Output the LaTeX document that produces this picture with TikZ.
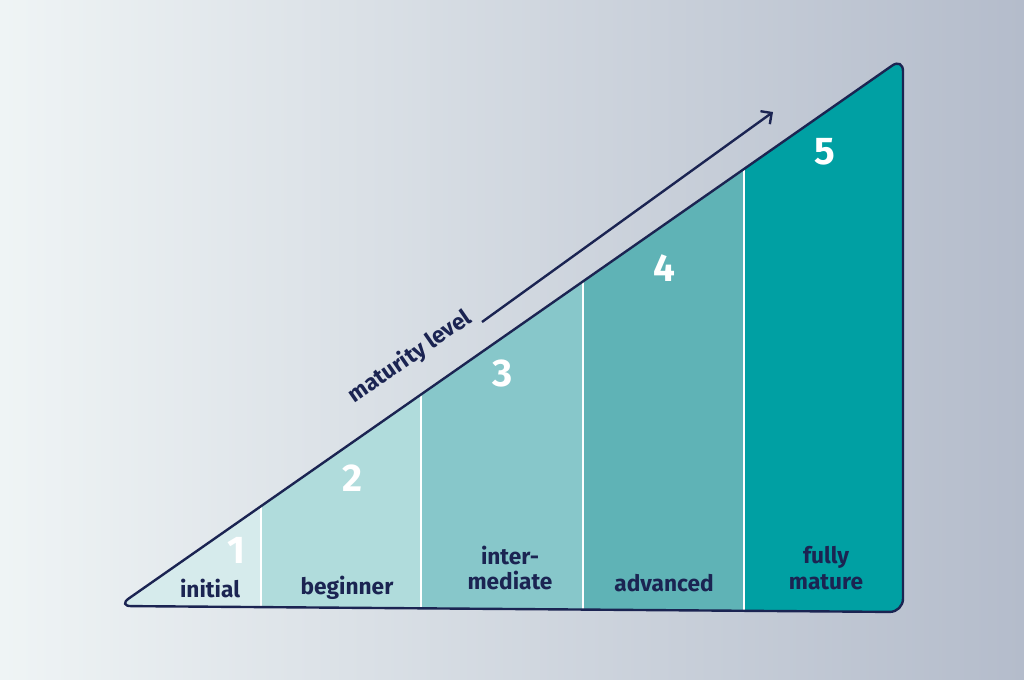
\documentclass[tikz,border=0pt]{standalone}
\usepackage{fontspec}
\setmainfont{Fira Sans}
\usetikzlibrary{arrows.meta}
\definecolor{navy}{HTML}{1B2452}
\definecolor{cA}{HTML}{D6EBEC}
\definecolor{cB}{HTML}{B0DCDC}
\definecolor{cC}{HTML}{87C7CA}
\definecolor{cD}{HTML}{5FB3B6}
\definecolor{cE}{HTML}{00A0A3}
\definecolor{bgL}{HTML}{EFF4F5}
\definecolor{bgR}{HTML}{B4BCCB}
\tikzset{
 num/.style={text=white,font=\fontsize{29}{32}\selectfont\bfseries},
 lab/.style={text=navy,font=\fontsize{17}{19}\selectfont\bfseries,align=center},
}
\begin{document}
\begin{tikzpicture}[x=0.75pt,y=-0.75pt]
\shade[left color=bgL,right color=bgR] (0,0) rectangle (1024,679);
\useasboundingbox (0,0) rectangle (1024,679);
\begin{scope}
\clip[rounded corners=10pt] (118,606) -- (903,58) -- (903,612) -- cycle;
\fill[cA] (100,0) rectangle (261,700);
\fill[cB] (261,0) rectangle (421,700);
\fill[cC] (421,0) rectangle (583,700);
\fill[cD] (583,0) rectangle (744,700);
\fill[cE] (744,0) rectangle (910,700);
\foreach \x in {261,421,583,744} \draw[white,line width=1pt] (\x,0) -- (\x,700);
\end{scope}
\draw[navy,line width=1.8pt,rounded corners=10pt] (118,606) -- (903,58) -- (903,612) -- cycle;
\coordinate (a0) at (482,322); \coordinate (a1) at (773,112);
\draw[navy,line width=1.8pt,-{Straight Barb[length=6pt,width=12pt]}] (a0) -- (a1);
\node[lab,rotate=34.8] (ml) at (410,357) {maturity level};
\node[num] (n1) at (236,550) {1};
\node[num] (n2) at (352,478) {2};
\node[num] (n3) at (503,373) {3};
\node[num] (n4) at (664,268) {4};
\node[num] (n5) at (825,152) {5};
\node[lab] (l1) at (210,588) {initial};
\node[lab] (l2) at (347,588) {beginner};
\node[lab] (l3) at (510,568) {inter-\\mediate};
\node[lab] (l4) at (664,583) {advanced};
\node[lab] (l5) at (826,568) {fully\\mature};
\end{tikzpicture}
\end{document}
